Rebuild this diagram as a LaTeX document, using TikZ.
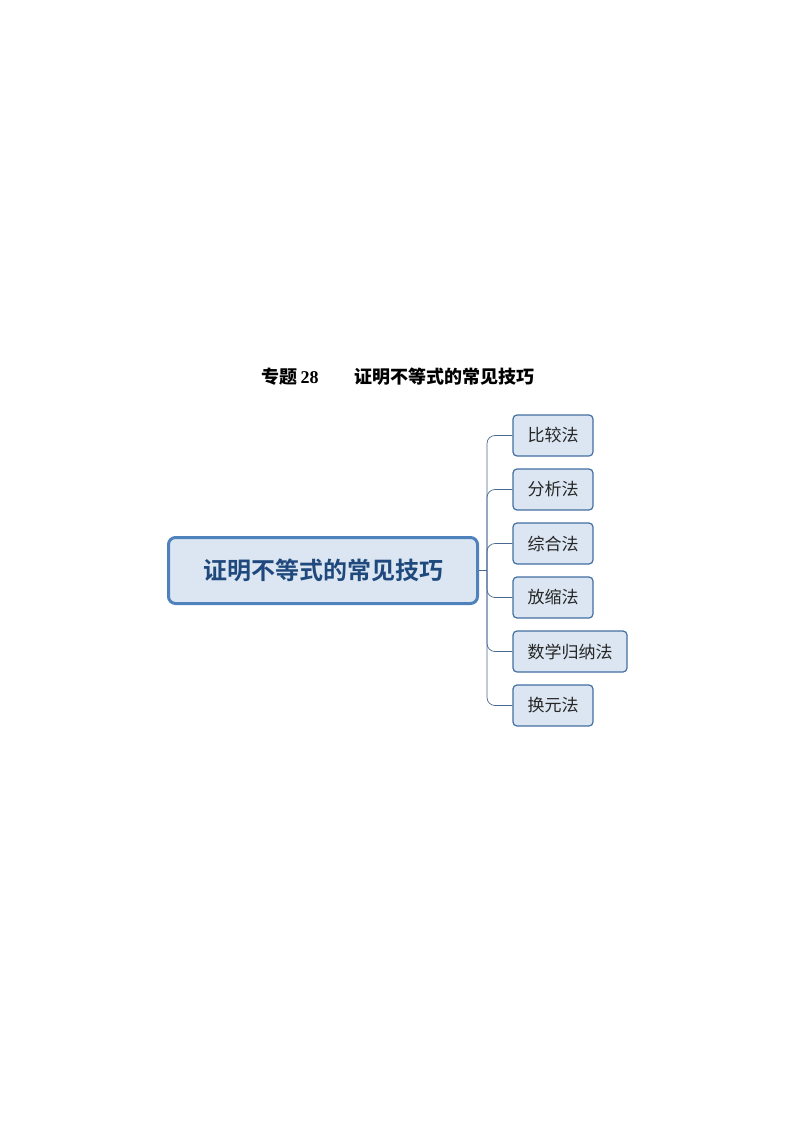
\documentclass[tikz,border=0pt]{standalone}
\usepackage{fontspec}
\setmainfont{Liberation Serif}
\newfontfamily\cjk{Noto Sans CJK SC}
\newfontfamily\cjkb{Noto Sans CJK SC Bold}
\definecolor{bordb}{HTML}{4F81BD}
\definecolor{fillb}{HTML}{DCE6F2}
\definecolor{txtb}{HTML}{1F497D}
\definecolor{linec}{HTML}{4A6890}
\tikzset{
  mainbox/.style={draw=bordb, line width=3pt, fill=fillb, rounded corners=7pt, minimum width=309pt, minimum height=66pt, inner sep=0pt, font=\cjkb\fontsize{24}{28}\selectfont, text=txtb},
  subbox/.style={draw=bordb!85!black, line width=1.2pt, fill=fillb, rounded corners=4pt, minimum height=41pt, inner sep=0pt, font=\cjk\fontsize{17}{20}\selectfont, text=black!85},
  conn/.style={draw=linec, line width=0.7pt, rounded corners=8pt}
}
\begin{document}
\begin{tikzpicture}[x=1pt,y=-1pt]
\useasboundingbox (0,0) rectangle (794,1123);
\node[font=\bfseries\fontsize{18}{21}\selectfont] (title) at (398,377) {{\cjkb 专题}\,28\hspace{2em}{\cjkb 证明不等式的常见技巧}};
\node[mainbox] (main) at (323,570.5) {证明不等式的常见技巧};
\node[subbox, minimum width=80pt] (c1) at (553,435.5) {比较法};
\node[subbox, minimum width=80pt] (c2) at (553,489.5) {分析法};
\node[subbox, minimum width=80pt] (c3) at (553,543.5) {综合法};
\node[subbox, minimum width=80pt] (c4) at (553,597.5) {放缩法};
\node[subbox, minimum width=114pt] (c5) at (570,651.5) {数学归纳法};
\node[subbox, minimum width=80pt] (c6) at (553,705.5) {换元法};
\coordinate (j) at (487,570.5);
\draw[conn] (main.east) -- (j);
\foreach \c in {c1,c2,c3,c4,c5,c6}{
  \draw[conn] (j) |- (\c.west);
}
\end{tikzpicture}
\end{document}
